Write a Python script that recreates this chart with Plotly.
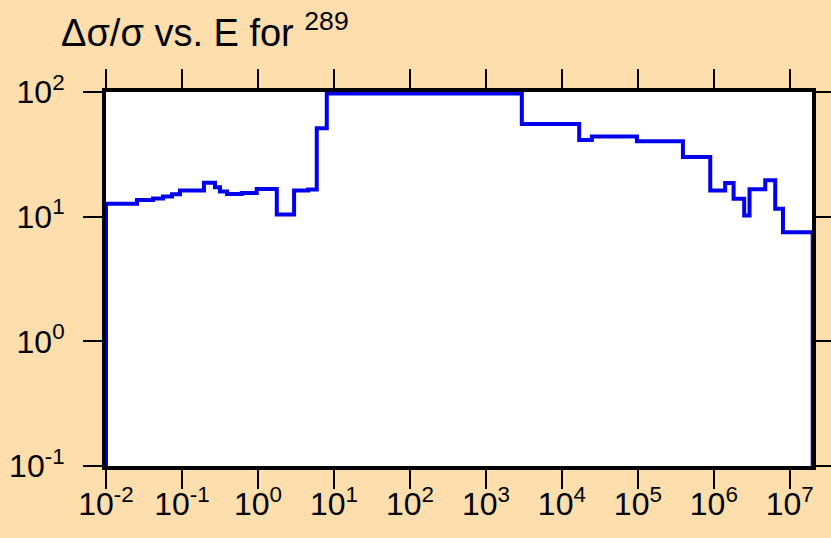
import plotly.graph_objects as go

# Energy group boundaries (eV) and relative uncertainty (%) per group
energy_edges = [0.01, 0.0256, 0.0416, 0.0563, 0.0740, 0.0942, 0.195, 0.272, 0.317,
                0.392, 0.612, 0.964, 1.77, 2.99, 4.57, 5.94, 8.05, 2970.0, 16900.0,
                24800.0, 97200.0, 392000.0, 897000.0, 1.41e6, 1.82e6, 2.51e6,
                2.95e6, 4.75e6, 6.43e6, 8.13e6, 2.0e7]
rel_unc = [12.7, 13.6, 14.0, 14.5, 15.1, 16.2, 18.7, 17.2, 15.9, 15.2, 15.5, 16.7,
           10.4, 16.2, 16.5, 51.2, 97.3, 55.4, 41.3, 43.9, 40.3, 30.1, 16.2, 18.6,
           13.9, 10.2, 16.6, 19.6, 11.6, 7.5]
floor_value = 1e-3  # curve drops below the axis at both ends

x_ticks = [1e-2, 1e-1, 1e0, 1e1, 1e2, 1e3, 1e4, 1e5, 1e6, 1e7]
y_ticks = [1e-1, 1e0, 1e1, 1e2]
tick_text_x = ["10<sup>-2</sup>", "10<sup>-1</sup>", "10<sup>0</sup>", "10<sup>1</sup>",
               "10<sup>2</sup>", "10<sup>3</sup>", "10<sup>4</sup>", "10<sup>5</sup>",
               "10<sup>6</sup>", "10<sup>7</sup>"]
tick_text_y = ["10<sup>-1</sup>", "10<sup>0</sup>", "10<sup>1</sup>", "10<sup>2</sup>"]

xs = [energy_edges[0]] + energy_edges + [energy_edges[-1]]
ys = [floor_value] + rel_unc + [rel_unc[-1], floor_value]

BG = "#FDDEAC"
FONT = "Liberation Sans, Arial, sans-serif"

fig = go.Figure()
fig.add_trace(go.Scatter(x=xs, y=ys, mode="lines", line_shape="hv",
                         line=dict(color="#0000EE", width=4), showlegend=False,
                         hoverinfo="skip"))

axis_common = dict(showline=True, linecolor="black", linewidth=4, mirror="ticks",
                   ticks="outside", ticklen=19, tickwidth=2, tickcolor="black",
                   showgrid=False, zeroline=False, automargin=False,
                   tickfont=dict(family=FONT, size=32, color="black"))

fig.update_xaxes(type="log", range=[-2, 7.292], tickvals=x_ticks, ticktext=tick_text_x,
                 ticklabelstandoff=-12, **axis_common)
fig.update_yaxes(type="log", range=[-1, 2], tickvals=y_ticks, ticktext=tick_text_y,
                 ticklabelstandoff=12, **axis_common)

fig.add_annotation(text="Δσ/σ vs. E for <sup>289</sup>", xref="paper", yref="paper",
                   x=-0.067, y=1.0, xanchor="left", yanchor="bottom", showarrow=False,
                   yshift=36, font=dict(family=FONT, size=38, color="black"))

fig.update_layout(width=831, height=538, paper_bgcolor=BG, plot_bgcolor="white",
                  margin=dict(l=106, r=19, t=92, b=72))

fig.write_html("out.html", config={"displayModeBar": False},
               post_script="document.body.style.margin='0';"
                           "document.body.style.background='" + BG + "';")
